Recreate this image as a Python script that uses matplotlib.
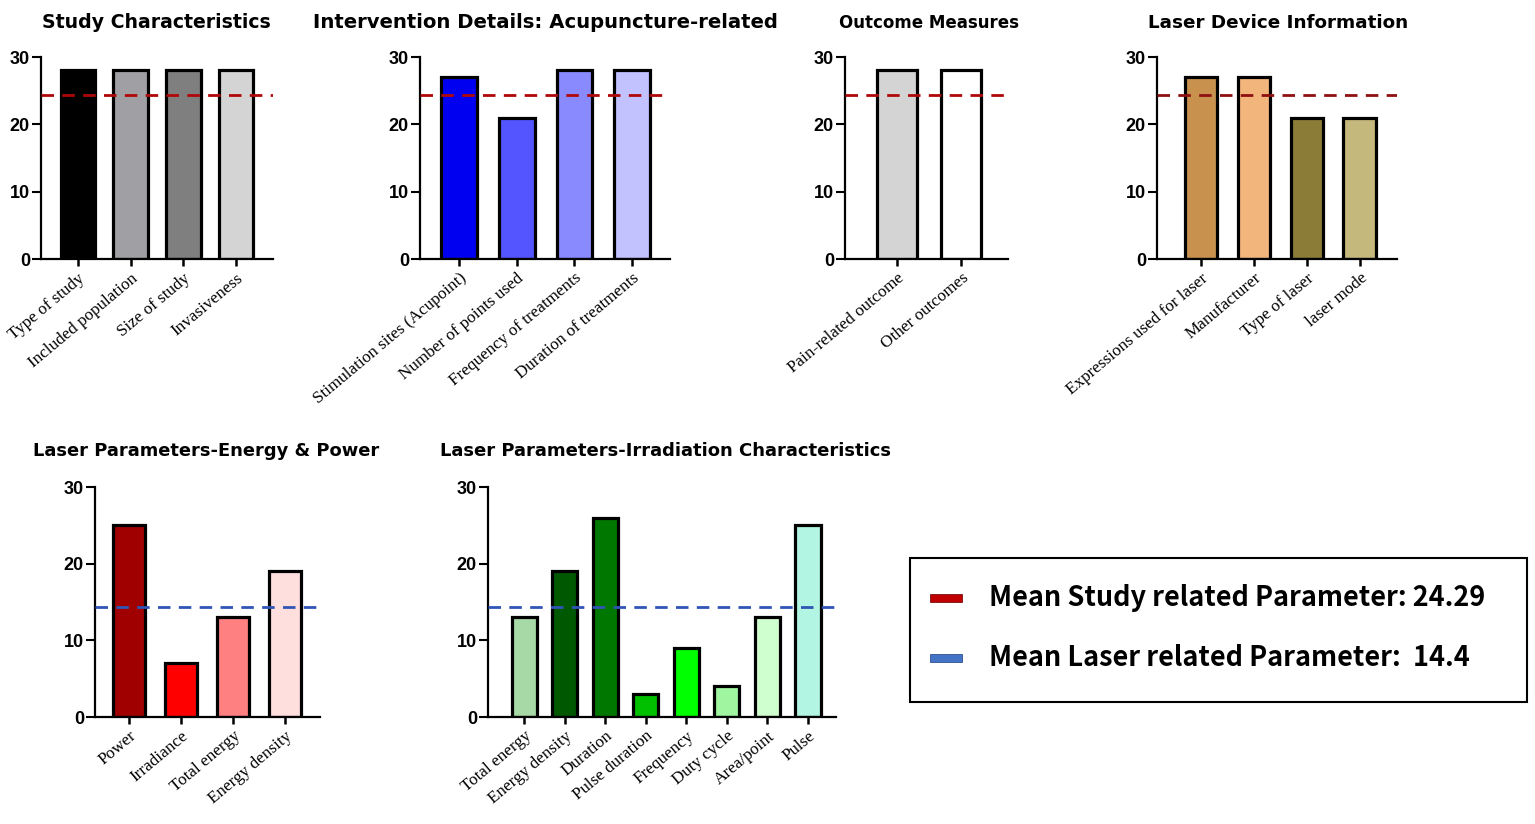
import matplotlib
matplotlib.use("Agg")
import matplotlib.pyplot as plt
from matplotlib.patches import Rectangle

W, H = 1535, 824

# ---------------- data ----------------
study_labels = ["Type of study", "Included population", "Size of study", "Invasiveness"]
study_values = [28, 28, 28, 28]
study_colors = ["#000000", "#A0A0A4", "#7F7F7F", "#D4D4D4"]

interv_labels = ["Stimulation sites (Acupoint)", "Number of points used",
                 "Frequency of treatments", "Duration of treatments"]
interv_values = [27, 21, 28, 28]
interv_colors = ["#0000F0", "#5555FF", "#8A8AFF", "#C2C2FF"]

outcome_labels = ["Pain-related outcome", "Other outcomes"]
outcome_values = [28, 28]
outcome_colors = ["#D4D4D4", "#FFFFFF"]

device_labels = ["Expressions used for laser", "Manufacturer", "Type of laser", "laser mode"]
device_values = [27, 27, 21, 21]
device_colors = ["#C8924E", "#F2B57C", "#8B7D38", "#C4B87C"]

energy_labels = ["Power", "Irradiance", "Total energy", "Energy density"]
energy_values = [25, 7, 13, 19]
energy_colors = ["#A00000", "#FF0000", "#FF8080", "#FFDEDE"]

irrad_labels = ["Total energy", "Energy density", "Duration", "Pulse duration",
                "Frequency", "Duty cycle", "Area/point", "Pulse"]
irrad_values = [13, 19, 26, 3, 9, 4, 13, 25]
irrad_colors = ["#A6D9A6", "#005800", "#007800", "#00C000", "#00FF00",
                "#A0F5A0", "#CFFFCF", "#B2F5E2"]

study_mean = 24.29
laser_mean = 14.4

titles = ["Study Characteristics", "Intervention Details: Acupuncture-related",
          "Outcome Measures", "Laser Device Information",
          "Laser Parameters-Energy & Power", "Laser Parameters-Irradiation Characteristics"]

legend_texts = [f"Mean Study related Parameter: {study_mean}",
                f"Mean Laser related Parameter:  {laser_mean}"]

# ---------------- layout ----------------
fig = plt.figure(figsize=(W / 100, H / 100), dpi=100)

def axes_px(x0, x1, ytop, ybot):
    return fig.add_axes([x0 / W, 1 - ybot / H, (x1 - x0) / W, (ybot - ytop) / H])

red_line = "#B00808"
blue_line = "#2F55B5"

panels = [
    # labels, values, colors, (x0,x1,ytop,ybot), xlim, width, mean, linecolor, title, title pos, title size
    (study_labels, study_values, study_colors, (41, 273, 57, 259), (-0.70, 3.70), 0.66,
     study_mean, red_line, titles[0], (156, 23), 13.6),
    (interv_labels, interv_values, interv_colors, (420, 670, 57, 259), (-0.68, 3.66), 0.62,
     study_mean, red_line, titles[1], (545, 23), 14.1),
    (outcome_labels, outcome_values, outcome_colors, (845, 1008, 57, 259), (-0.81, 1.73), 0.63,
     study_mean, red_line, titles[2], (929, 23), 12.0),
    (device_labels, device_values, device_colors, (1157, 1397, 57, 259), (-0.83, 3.70), 0.62,
     study_mean, "#8E1010", titles[3], (1278, 23), 13.25),
    (energy_labels, energy_values, energy_colors, (95, 320, 487, 717), (-0.65, 3.67), 0.62,
     laser_mean, blue_line, titles[4], (206, 451), 12.9),
    (irrad_labels, irrad_values, irrad_colors, (488, 836, 487, 717), (-0.89, 7.69), 0.62,
     laser_mean, blue_line, titles[5], (665, 451), 13.0),
]

serif = ["Liberation Serif", "DejaVu Serif"]
sans = ["Liberation Sans", "DejaVu Sans"]
wide_sans = ["DejaVu Sans"]

for labels, values, colors, box, xlim, width, mean, lc, title, tpos, tsize in panels:
    ax = axes_px(*box)
    x = list(range(len(values)))
    ax.bar(x, values, width=width, color=colors, edgecolor="black", linewidth=2.3, zorder=2)
    ax.axhline(mean, color=lc, linestyle=(0, (4.5, 3.0)), linewidth=2.0, zorder=3)
    ax.set_xlim(*xlim)
    ax.set_ylim(0, 30)
    ax.set_yticks([0, 10, 20, 30])
    ax.set_xticks(x)
    ax.set_xticklabels(labels, rotation=40, ha="right", va="top",
                       rotation_mode="anchor", family=serif, fontsize=12.3)
    for t in ax.get_yticklabels():
        t.set_family(sans)
        t.set_fontweight("bold")
        t.set_fontsize(13)
    ax.tick_params(axis="y", direction="out", length=6.5, width=1.5, pad=1.5)
    ax.tick_params(axis="x", direction="out", length=5, width=1.8, pad=3)
    for s in ["top", "right"]:
        ax.spines[s].set_visible(False)
    for s in ["left", "bottom"]:
        ax.spines[s].set_linewidth(1.6)
    ax.patch.set_alpha(0)
    fig.text(tpos[0] / W, 1 - tpos[1] / H, title, ha="center", va="center",
             family=wide_sans, fontweight="bold", fontsize=tsize)

# ---------------- legend box ----------------
lx0, lx1, ly0, ly1 = 910, 1527, 558, 702
fig.patches.append(Rectangle((lx0 / W, 1 - ly1 / H), (lx1 - lx0) / W, (ly1 - ly0) / H,
                             transform=fig.transFigure, fill=False, edgecolor="black",
                             linewidth=1.5))
leg_colors = ["#C00000", "#4472C4"]
leg_edges = ["#7A1010", "#2F528F"]
leg_y = [598, 658]
for txt, c, ec, yy in zip(legend_texts, leg_colors, leg_edges, leg_y):
    fig.patches.append(Rectangle((930 / W, 1 - (yy + 4) / H), 32 / W, 8 / H,
                                 transform=fig.transFigure, facecolor=c,
                                 edgecolor=ec, linewidth=0.6))
    fig.text(989 / W, 1 - yy / H, txt, ha="left", va="center",
             family=["Noto Sans CJK KR", "DejaVu Sans"], fontweight="bold", fontsize=19.5)

fig.savefig("out.png", dpi=100, facecolor="white")
